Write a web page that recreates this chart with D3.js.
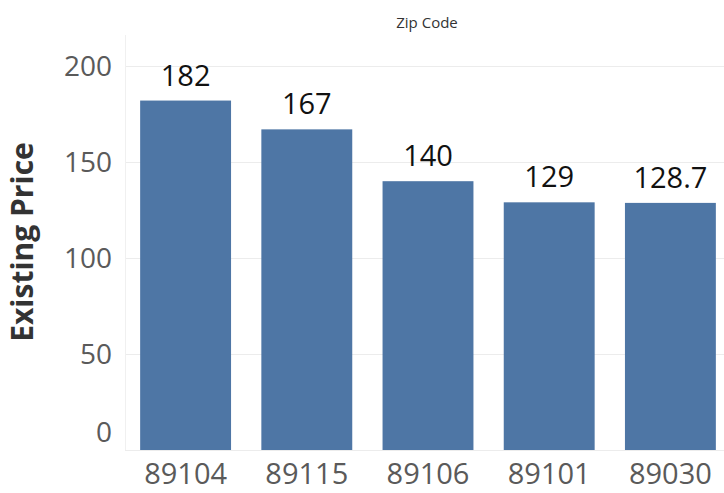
<!DOCTYPE html>
<html>
<head>
<meta charset="utf-8">
<script src="https://cdn.jsdelivr.net/npm/d3@7"></script>
<style>
  html, body { margin: 0; padding: 0; background: #ffffff; }
  svg { display: block; }
  text { font-family: "Open Sans", "Noto Sans", sans-serif; }
</style>
</head>
<body>
<svg id="chart" width="724" height="493"></svg>
<script>
const categories = ["89104", "89115", "89106", "89101", "89030"];
const values = [182, 167, 140, 129, 128.7];
const valueLabels = ["182", "167", "140", "129", "128.7"];
const yTicks = [0, 50, 100, 150, 200];
const xTitle = "Zip Code";
const yTitle = "Existing Price";

const W = 724, H = 493;
const plot = { left: 125, right: 731, top: 35, bottom: 450 };

const svg = d3.select("#chart");

const x = d3.scaleBand()
  .domain(categories)
  .range([plot.left, plot.right])
  .paddingInner(0.25)
  .paddingOuter(0.125);

const y = d3.scaleLinear()
  .domain([0, 200])
  .range([plot.bottom, plot.bottom - 384]);

// gridlines
svg.append("g")
  .selectAll("line")
  .data(yTicks)
  .join("line")
  .attr("x1", plot.left)
  .attr("x2", W)
  .attr("y1", d => y(d) + 0.5)
  .attr("y2", d => y(d) + 0.5)
  .attr("stroke", "#ececec")
  .attr("stroke-width", 1);

// left axis line (faint)
svg.append("line")
  .attr("x1", plot.left + 0.5).attr("x2", plot.left + 0.5)
  .attr("y1", plot.top).attr("y2", plot.bottom)
  .attr("stroke", "#f0f0f0");

// y axis tick labels
const yAxis = d3.axisLeft(y).tickValues(yTicks).tickSize(0).tickPadding(0);
const yg = svg.append("g")
  .attr("transform", `translate(112,0)`)
  .call(yAxis);
yg.select(".domain").remove();
yg.selectAll("text")
  .attr("font-size", 28)
  .attr("fill", "#5a5a5a")
  .attr("font-family", "'Open Sans', sans-serif")
  .attr("dy", d => d === 0 ? "-0.32em" : "0.35em");

// bars
svg.append("g")
  .selectAll("rect")
  .data(categories)
  .join("rect")
  .attr("x", d => x(d))
  .attr("width", x.bandwidth())
  .attr("y", (d, i) => y(values[i]))
  .attr("height", (d, i) => y(0) - y(values[i]))
  .attr("fill", "#4e76a5");

// value labels
svg.append("g")
  .selectAll("text")
  .data(categories)
  .join("text")
  .attr("x", d => x(d) + x.bandwidth() / 2)
  .attr("y", (d, i) => y(values[i]) - 15)
  .attr("text-anchor", "middle")
  .attr("font-size", 29)
  .attr("fill", "#111")
  .text((d, i) => valueLabels[i]);

// x axis labels
const xAxis = d3.axisBottom(x).tickSize(0).tickPadding(0);
const xg = svg.append("g")
  .attr("transform", `translate(0,${plot.bottom})`)
  .call(xAxis);
xg.select(".domain").remove();
xg.selectAll("text")
  .attr("font-size", 29)
  .attr("fill", "#5a5a5a")
  .attr("font-family", "'Open Sans', sans-serif")
  .attr("dy", "0")
  .attr("y", 34);

// x title (top)
svg.append("text")
  .attr("x", 427)
  .attr("y", 28)
  .attr("text-anchor", "middle")
  .attr("font-size", 15)
  .attr("fill", "#333")
  .text(xTitle);

// y title
svg.append("text")
  .attr("transform", `translate(33,242) rotate(-90)`)
  .attr("text-anchor", "middle")
  .attr("font-size", 30)
  .attr("font-weight", "bold")
  .attr("fill", "#333")
  .text(yTitle);
</script>
</body>
</html>
